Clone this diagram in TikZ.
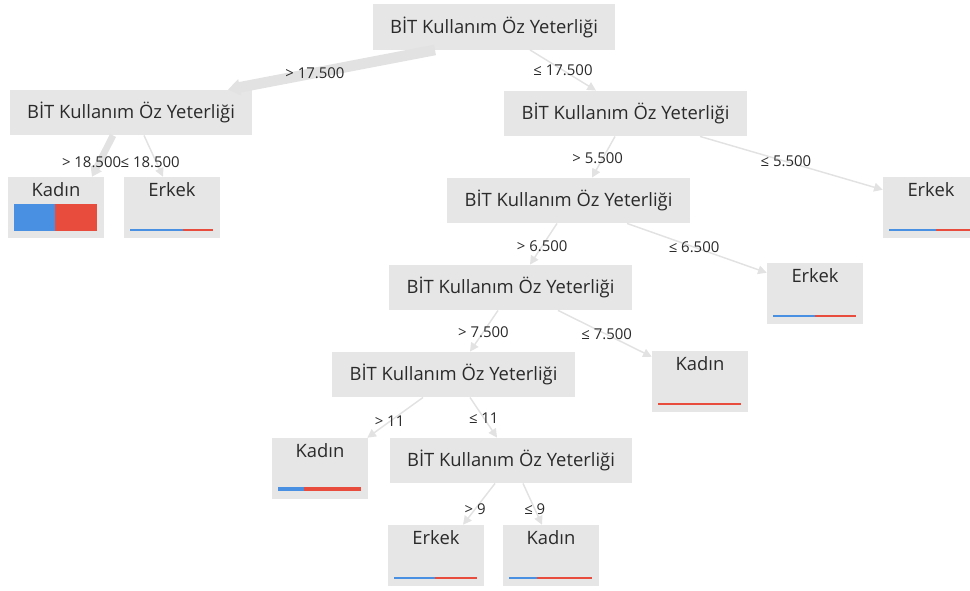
\documentclass[tikz,border=0pt]{standalone}
\usepackage{fontspec}
\setmainfont{Open Sans}
\usepackage{xcolor}
\usepackage{tikz}
\usetikzlibrary{arrows.meta, positioning, calc}

\definecolor{boxgray}{HTML}{E6E6E6}
\definecolor{edgegray}{HTML}{E2E2E2}
\definecolor{textgray}{HTML}{2A2A2A}
\definecolor{barblue}{HTML}{4A90E2}
\definecolor{barred}{HTML}{E74C3C}

\begin{document}
\begin{tikzpicture}[x=0.75pt, y=-0.75pt]
    \tikzstyle{split} = [rectangle, fill=boxgray, minimum width=182pt, minimum height=34pt, inner sep=0pt, text=textgray, font=\fontsize{13.8}{16}\selectfont]
    \tikzstyle{leaf} = [rectangle, fill=boxgray, minimum width=72pt, minimum height=45.75pt, inner sep=0pt]
    \tikzstyle{leaftext} = [anchor=north, inner sep=2pt, yshift=-2pt, text=textgray, font=\fontsize{13.8}{16}\selectfont]
    \tikzstyle{cond} = [inner sep=1pt, text=textgray, font=\fontsize{11.2}{13}\selectfont]
    \tikzstyle{arrow} = [draw=edgegray, line width=1.1pt, -{Triangle[length=6.5pt,width=6.5pt]}]
    \tikzstyle{heavyarrow} = [draw=edgegray, line width=8pt, -{Triangle[length=9pt,width=12pt]}]
    \tikzstyle{midarrow} = [draw=edgegray, line width=5pt, -{Triangle[length=7pt,width=9pt]}]

    \useasboundingbox (0,0) rectangle (970,590);

    \node (root) [split] at (494,27) {BİT Kullanım Öz Yeterliği};
    \node (n1) [split] at (131,112.5) {BİT Kullanım Öz Yeterliği};
    \node (n2) [split] at (625.5,113.5) {BİT Kullanım Öz Yeterliği};
    \node (n3) [split] at (568.5,200.5) {BİT Kullanım Öz Yeterliği};
    \node (n4) [split] at (510.5,287.5) {BİT Kullanım Öz Yeterliği};
    \node (n5) [split] at (453.5,374.5) {BİT Kullanım Öz Yeterliği};
    \node (n6) [split] at (511,460.5) {BİT Kullanım Öz Yeterliği};

    \node (l1) [leaf, label={[leaftext]north:Kadın}] at (56,207.5) {};
    \node (l2) [leaf, label={[leaftext]north:Erkek}] at (172,207.5) {};
    \node (r1) [leaf, label={[leaftext]north:Erkek}] at (931,207.5) {};
    \node (r2) [leaf, label={[leaftext]north:Erkek}] at (815,293.5) {};
    \node (r3) [leaf, label={[leaftext]north:Kadın}] at (700,381.5) {};
    \node (l3) [leaf, label={[leaftext]north:Kadın}] at (320,468.5) {};
    \node (l4) [leaf, label={[leaftext]north:Erkek}] at (436,555.5) {};
    \node (r4) [leaf, label={[leaftext]north:Kadın}] at (551,555.5) {};

    \fill[barblue] ($(l1.south west)+(6,-7)$) rectangle ($(l1.south west)+(47,-34)$);
    \fill[barred] ($(l1.south west)+(47,-7)$) rectangle ($(l1.south west)+(89,-34)$);
    \fill[barblue] ($(l2.south west)+(6,-7)$) rectangle ($(l2.south west)+(59,-9.5)$);
    \fill[barred] ($(l2.south west)+(59,-7)$) rectangle ($(l2.south west)+(89,-9.5)$);
    \fill[barblue] ($(r1.south west)+(6,-7)$) rectangle ($(r1.south west)+(53,-9.5)$);
    \fill[barred] ($(r1.south west)+(53,-7)$) rectangle ($(r1.south west)+(89,-9.5)$);
    \fill[barblue] ($(r2.south west)+(6,-7)$) rectangle ($(r2.south west)+(48,-9.5)$);
    \fill[barred] ($(r2.south west)+(48,-7)$) rectangle ($(r2.south west)+(89,-9.5)$);
    \fill[barred] ($(r3.south west)+(6,-7)$) rectangle ($(r3.south west)+(89,-9.5)$);
    \fill[barblue] ($(l3.south west)+(6,-8)$) rectangle ($(l3.south west)+(32,-12)$);
    \fill[barred] ($(l3.south west)+(32,-8)$) rectangle ($(l3.south west)+(89,-12)$);
    \fill[barblue] ($(l4.south west)+(6,-7)$) rectangle ($(l4.south west)+(47,-9.5)$);
    \fill[barred] ($(l4.south west)+(47,-7)$) rectangle ($(l4.south west)+(89,-9.5)$);
    \fill[barblue] ($(r4.south west)+(6,-7)$) rectangle ($(r4.south west)+(34,-9.5)$);
    \fill[barred] ($(r4.south west)+(34,-7)$) rectangle ($(r4.south west)+(89,-9.5)$);

    \draw [heavyarrow] ($(root.south)+(-59,0)$) -- node[cond, pos=0.58] {> 17.500} ($(n1.north)+(97,0)$);
    \draw [arrow] ($(root.south)+(36,0)$) -- node[cond] {≤ 17.500} ($(n2.north)+(-29.5,0)$);
    \draw [midarrow] ($(n1.south)+(-18,0)$) -- node[cond, pos=0.64, xshift=-6pt] {> 18.500} ($(l1.north)+(36,0)$);
    \draw [arrow] ($(n1.south)+(13,0)$) -- node[cond, pos=0.64, xshift=-4.5pt] {≤ 18.500} ($(l2.north)+(-9,0)$);
    \draw [arrow] ($(n2.south)+(-10.5,0)$) -- node[cond, pos=0.52, xshift=-4pt] {> 5.500} ($(n3.north)+(23.5,0)$);
    \draw [arrow] ($(n2.south)+(74.5,0)$) -- node[cond, pos=0.47] {≤ 5.500} ($(r1.north west)+(0,13)$);
    \draw [arrow] ($(n3.south)+(-11.5,0)$) -- node[cond, pos=0.55] {> 6.500} ($(n4.north)+(19.5,0)$);
    \draw [arrow] ($(n3.south)+(58.5,0)$) -- node[cond, pos=0.48] {≤ 6.500} ($(r2.north west)+(0,10)$);
    \draw [arrow] ($(n4.south)+(-12.5,0)$) -- node[cond, pos=0.52] {> 7.500} ($(n5.north)+(16.5,0)$);
    \draw [arrow] ($(n4.south)+(47.5,0)$) -- node[cond, pos=0.52] {≤ 7.500} ($(r3.north west)+(0,6)$);
    \draw [arrow] ($(n5.south)+(-30.5,0)$) -- node[cond, pos=0.6] {> 11} ($(l3.north east)+(-1,0)$);
    \draw [arrow] ($(n5.south)+(16.5,0)$) -- node[cond, pos=0.51] {≤ 11} ($(n6.north)+(-14,0)$);
    \draw [arrow] ($(n6.south)+(-16,0)$) -- node[cond, pos=0.62] {> 9} ($(l4.north)+(27,0)$);
    \draw [arrow] ($(n6.south)+(12,0)$) -- node[cond, pos=0.62] {≤ 9} ($(r4.north)+(-9,0)$);
\end{tikzpicture}
\end{document}
